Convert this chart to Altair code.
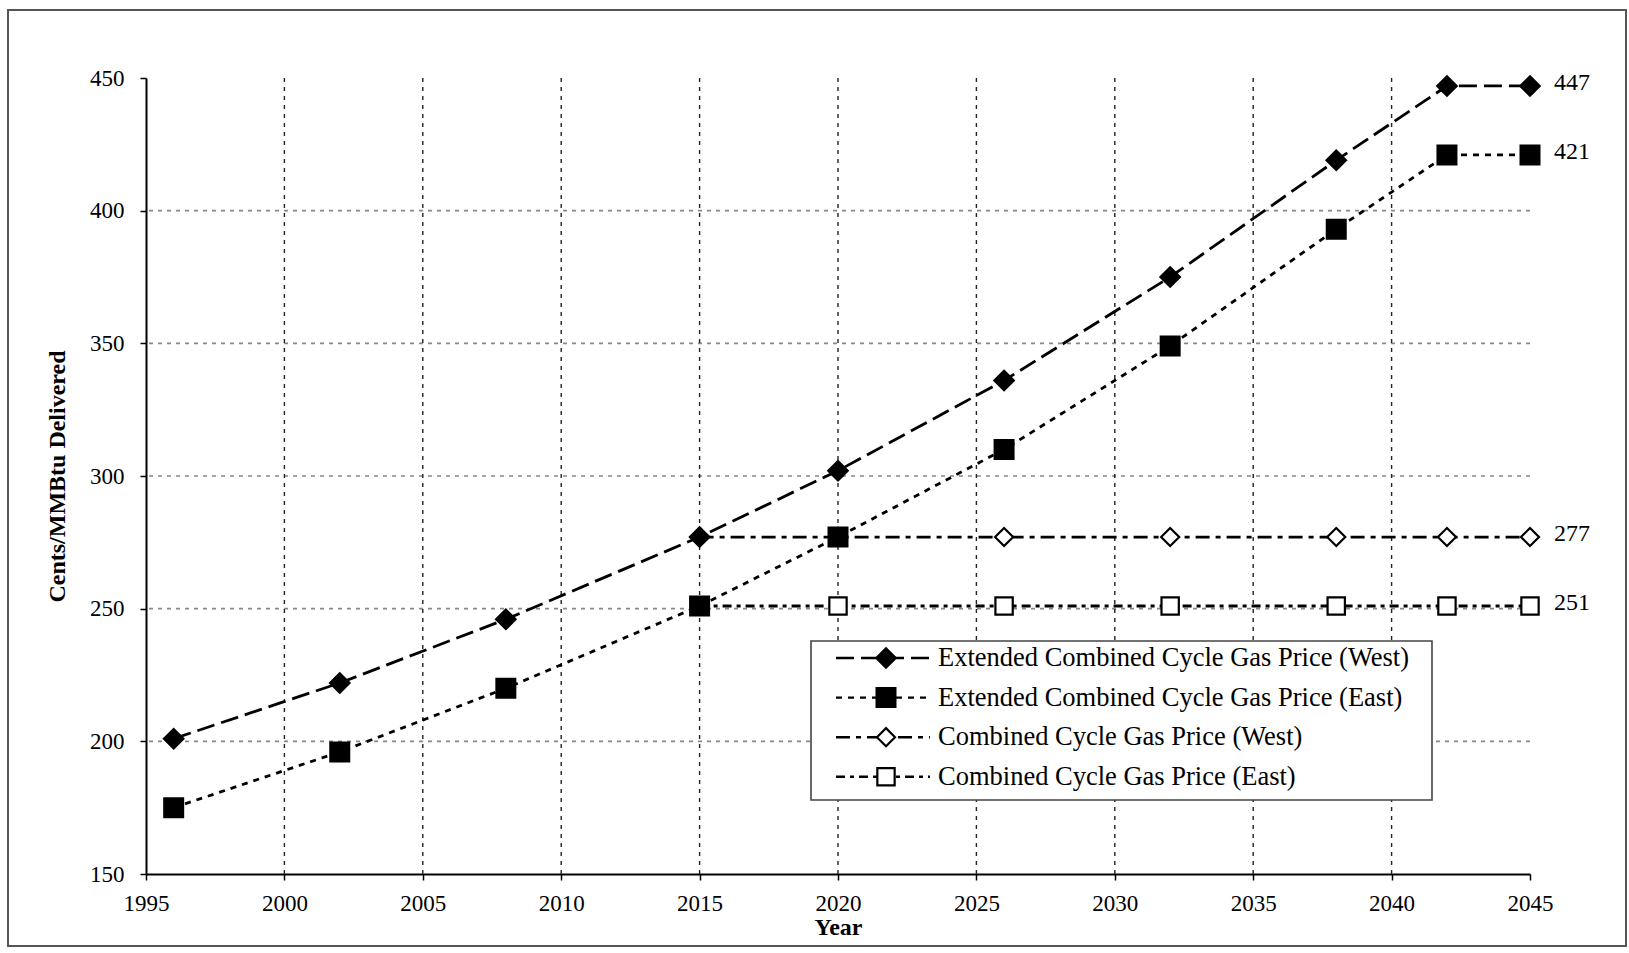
import altair as alt
import pandas as pd

# Projected delivered gas prices, cents per MMBtu
series_names = [
    "Extended Combined Cycle Gas Price (West)",
    "Extended Combined Cycle Gas Price (East)",
    "Combined Cycle Gas Price (West)",
    "Combined Cycle Gas Price (East)",
]
years_ext = [1996, 2002, 2008, 2015, 2020, 2026, 2032, 2038, 2042, 2045]
ext_west = [201, 222, 246, 277, 302, 336, 375, 419, 447, 447]
ext_east = [175, 196, 220, 251, 277, 310, 349, 393, 421, 421]
years_cc = [2015, 2020, 2026, 2032, 2038, 2042, 2045]
cc_west = [277, 277, 277, 277, 277, 277, 277]
cc_east = [251, 251, 251, 251, 251, 251, 251]

x_ticks = [1995, 2000, 2005, 2010, 2015, 2020, 2025, 2030, 2035, 2040, 2045]
y_ticks = [150, 200, 250, 300, 350, 400, 450]
grid_years = [2000, 2005, 2010, 2015, 2020, 2025, 2030, 2035, 2040]
grid_values = [200, 250, 300, 350, 400]

# combined-cycle rows first so the extended markers sit on top
rows = []
for name, yrs, vals in [
    (series_names[2], years_cc, cc_west),
    (series_names[3], years_cc, cc_east),
    (series_names[0], years_ext, ext_west),
    (series_names[1], years_ext, ext_east),
]:
    for yr, v in zip(yrs, vals):
        rows.append({"series": name, "year": yr, "value": v})
df = pd.DataFrame(rows)

W, H = 1384, 796
SERIF = "Liberation Serif"

x_scale = alt.Scale(domain=[1995, 2045], nice=False, zero=False)
y_scale = alt.Scale(domain=[150, 450], nice=False, zero=False)
dash_scale = alt.Scale(domain=series_names,
                       range=[[18, 7], [6, 6], [14, 6, 5, 6], [9, 5, 4, 5]])
shape_scale = alt.Scale(domain=series_names,
                        range=["diamond", "square", "diamond", "square"])
fill_scale = alt.Scale(domain=series_names,
                       range=["black", "black", "white", "white"])
size_scale = alt.Scale(domain=series_names, range=[380, 300, 260, 230])

X = alt.X("year:Q", scale=x_scale,
          axis=alt.Axis(values=x_ticks, format="d", title="Year", grid=False,
                        labelFlush=False, titlePadding=0, labelPadding=12,
                        tickSize=6))
Y = alt.Y("value:Q", scale=y_scale,
          axis=alt.Axis(values=y_ticks, format="d", title="Cents/MMBtu Delivered",
                        labelFlush=False, grid=False, titlePadding=20,
                        labelPadding=16, tickSize=6))

base = alt.Chart(df)

# outer frame around the figure
frame = alt.Chart(pd.DataFrame({"k": [0]})).mark_rect(
    fill=None, stroke="#555", strokeWidth=2
).encode(x=alt.value(-138), x2=alt.value(W + 96), y=alt.value(-68), y2=alt.value(H + 72))

vgrid = alt.Chart(pd.DataFrame({"year": grid_years})).mark_rule(
    color="#222", strokeDash=[4, 5], strokeWidth=1.4
).encode(x=alt.X("year:Q", scale=x_scale))

hgrid = alt.Chart(pd.DataFrame({"value": grid_values})).mark_rule(
    color="#888", strokeDash=[4, 5], strokeWidth=1.6
).encode(y=alt.Y("value:Q", scale=y_scale))

lines = base.mark_line(color="black", strokeWidth=2.8).encode(
    x=X, y=Y, detail="series:N",
    strokeDash=alt.StrokeDash("series:N", scale=dash_scale, legend=None),
)

points = base.mark_point(filled=True, stroke="black", strokeWidth=2.2,
                         opacity=1).encode(
    x=alt.X("year:Q", scale=x_scale),
    y=alt.Y("value:Q", scale=y_scale),
    shape=alt.Shape("series:N", scale=shape_scale, legend=None),
    fill=alt.Fill("series:N", scale=fill_scale, legend=None),
    size=alt.Size("series:N", scale=size_scale, legend=None),
)

end_labels = base.transform_filter(alt.datum.year == 2045).mark_text(
    align="left", baseline="middle", dx=24, dy=-3, font=SERIF, fontSize=24,
    color="black"
).encode(
    x=alt.X("year:Q", scale=x_scale),
    y=alt.Y("value:Q", scale=y_scale),
    text=alt.Text("value:Q", format="d"),
)

# hand-built legend box
leg_top, leg_step = 580, 39.6
leg_df = pd.DataFrame({
    "series": series_names,
    "ly": [leg_top + i * leg_step for i in range(len(series_names))],
})
leg = alt.Chart(leg_df)
leg_box = alt.Chart(pd.DataFrame({"k": [0]})).mark_rect(
    fill="white", stroke="#444", strokeWidth=1.6
).encode(x=alt.value(665), x2=alt.value(1286), y=alt.value(563), y2=alt.value(722))
leg_lines = leg.mark_rule(color="black", strokeWidth=2.4).encode(
    x=alt.value(690), x2=alt.value(784),
    y=alt.Y("ly:Q", scale=None),
    strokeDash=alt.StrokeDash("series:N", scale=dash_scale, legend=None),
)
leg_pts = leg.mark_point(filled=True, stroke="black", strokeWidth=2.2,
                         opacity=1).encode(
    x=alt.value(740),
    y=alt.Y("ly:Q", scale=None),
    shape=alt.Shape("series:N", scale=shape_scale, legend=None),
    fill=alt.Fill("series:N", scale=fill_scale, legend=None),
    size=alt.Size("series:N", scale=size_scale, legend=None),
)
leg_text = leg.mark_text(align="left", baseline="middle", font=SERIF,
                         fontSize=26.5, color="black").encode(
    x=alt.value(792),
    y=alt.Y("ly:Q", scale=None),
    text="series:N",
)

chart = alt.layer(
    frame, hgrid, vgrid, lines, points, end_labels,
    leg_box, leg_lines, leg_pts, leg_text,
).properties(
    width=W, height=H,
    background="white",
    autosize=alt.AutoSizeParams(type="none"),
    padding={"left": 146, "top": 78, "right": 99, "bottom": 79},
).configure_view(
    stroke=None
).configure_axis(
    domainColor="black", domainWidth=2, tickColor="black", tickWidth=1.5,
    labelFont=SERIF, labelFontSize=23, labelColor="black",
    titleFont=SERIF, titleFontSize=24, titleFontWeight="bold", titleColor="black",
)

chart.save("out.html", embed_options={"renderer": "svg", "actions": False})
